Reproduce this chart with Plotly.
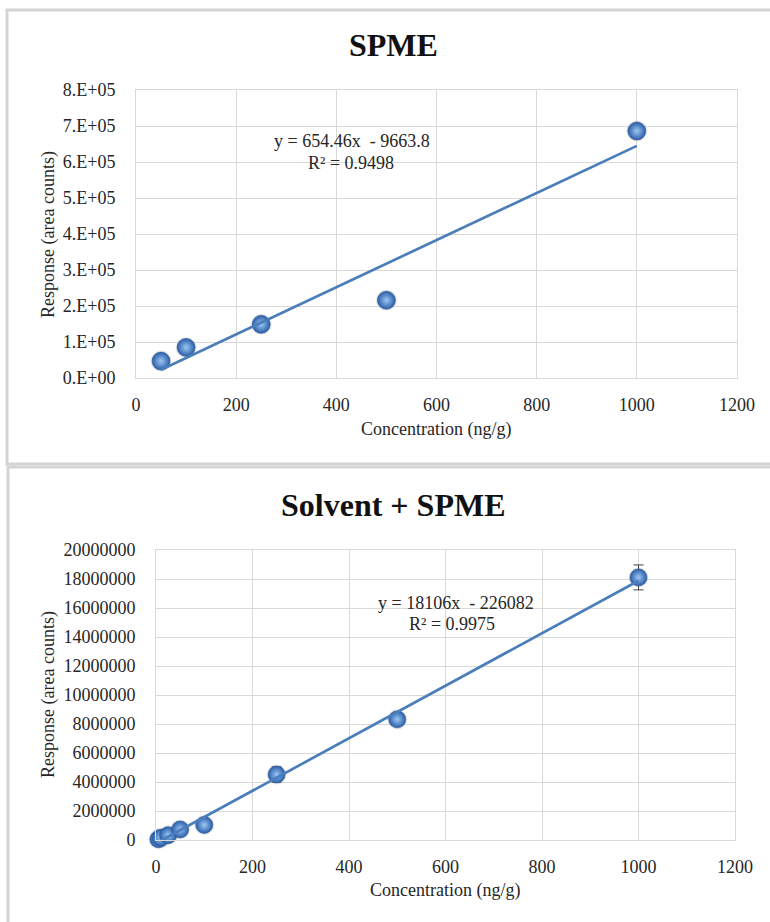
import plotly.graph_objects as go

W, H = 770, 922

# ---- SPME calibration ----
spme_conc = [50, 100, 250, 500, 1000]
spme_resp = [47000, 85000, 149000, 216000, 686000]
spme_slope, spme_intercept = 654.46, -9663.8
spme_eq = "y = 654.46x  - 9663.8"
spme_r2 = "R² = 0.9498"
spme_yticks = [0, 100000, 200000, 300000, 400000, 500000, 600000, 700000, 800000]
spme_yticktext = ["0.E+00", "1.E+05", "2.E+05", "3.E+05", "4.E+05",
                  "5.E+05", "6.E+05", "7.E+05", "8.E+05"]

# ---- Solvent + SPME calibration ----
solv_conc = [5, 10, 25, 50, 100, 250, 500, 1000]
solv_resp = [50000, 150000, 330000, 730000, 1040000, 4520000, 8320000, 18110000]
solv_err = [20000, 30000, 60000, 80000, 120000, 520000, 300000, 860000]
solv_slope, solv_intercept = 18106, -226082
solv_eq = "y = 18106x  - 226082"
solv_r2 = "R² = 0.9975"
solv_yticks = list(range(0, 20000001, 2000000))

x_ticks = [0, 200, 400, 600, 800, 1000, 1200]

FONT = "Liberation Serif"
TXT = "#262626"
GRID = "#d9d9d9"
LINE = "#4a7ebb"


def px(x):
    return x / W


def py(y):
    return 1 - y / H


def sphere(size):
    return dict(size=size, color="#2a5ea8",
                gradient=dict(type="radial", color="#9cc6f5"),
                line=dict(color="#2a5896", width=0.6))


def shadow(size):
    return dict(size=size, color="rgba(60,60,60,0.13)", line=dict(width=0))


fig = go.Figure()

# top chart
fig.add_trace(go.Scatter(x=spme_conc, y=spme_resp, mode="markers",
                         marker=shadow(21), xaxis="x", yaxis="y",
                         showlegend=False, hoverinfo="skip", cliponaxis=False))
fig.add_trace(go.Scatter(x=spme_conc, y=spme_resp, mode="markers",
                         marker=sphere(18), xaxis="x", yaxis="y",
                         showlegend=False, cliponaxis=False))
sx = [spme_conc[0], spme_conc[-1]]
fig.add_trace(go.Scatter(x=sx, y=[spme_slope * v + spme_intercept for v in sx],
                         mode="lines", line=dict(color=LINE, width=2.7),
                         xaxis="x", yaxis="y", showlegend=False))

# bottom chart
fig.add_trace(go.Scatter(x=solv_conc, y=solv_resp, mode="markers",
                         marker=shadow(20), xaxis="x2", yaxis="y2",
                         showlegend=False, hoverinfo="skip", cliponaxis=False))
fig.add_trace(go.Scatter(x=solv_conc, y=solv_resp, mode="markers",
                         marker=sphere(17),
                         error_y=dict(type="data", array=solv_err, color="#404040",
                                      thickness=1, width=5),
                         xaxis="x2", yaxis="y2", showlegend=False, cliponaxis=False))
bx = [solv_conc[0], solv_conc[-1]]
fig.add_trace(go.Scatter(x=bx, y=[solv_slope * v + solv_intercept for v in bx],
                         mode="lines", line=dict(color=LINE, width=2.7),
                         xaxis="x2", yaxis="y2", showlegend=False))

axis_common = dict(showgrid=True, gridcolor=GRID, gridwidth=1, zeroline=False,
                   showline=True, linecolor=GRID, linewidth=1, mirror=True,
                   tickfont=dict(family=FONT, size=18, color=TXT), ticks="")

fig.update_layout(
    autosize=True,
    margin=dict(l=0, r=0, t=0, b=0, autoexpand=False),
    paper_bgcolor="white", plot_bgcolor="white",
    xaxis=dict(domain=[px(136), px(737)], range=[0, 1200], tickvals=x_ticks,
               anchor="y", ticklabelstandoff=10, **axis_common),
    yaxis=dict(domain=[py(378), py(90)], range=[0, 800000], tickvals=spme_yticks,
               ticktext=spme_yticktext, anchor="x", ticklabelstandoff=16,
               **axis_common),
    xaxis2=dict(domain=[px(156), px(735)], range=[0, 1200], tickvals=x_ticks,
                anchor="y2", ticklabelstandoff=10, **axis_common),
    yaxis2=dict(domain=[py(840), py(550)], range=[0, 20000000], tickvals=solv_yticks,
                tickformat="d", anchor="x2", ticklabelstandoff=16, **axis_common),
)

annotations = [
    dict(text="<b>SPME</b>", x=px(393), y=py(45), font=dict(size=32)),
    dict(text="<b>Solvent + SPME</b>", x=px(393), y=py(505), font=dict(size=32)),
    dict(text="Concentration (ng/g)", x=px(436), y=py(430), font=dict(size=18)),
    dict(text="Concentration (ng/g)", x=px(445), y=py(890), font=dict(size=18)),
    dict(text="Response (area counts)", x=px(49), y=py(234), textangle=-90,
         font=dict(size=18)),
    dict(text="Response (area counts)", x=px(48), y=py(695), textangle=-90,
         font=dict(size=18)),
    dict(text=spme_eq, x=px(352), y=py(141), font=dict(size=18)),
    dict(text=spme_r2, x=px(351), y=py(163), font=dict(size=18)),
    dict(text=solv_eq, x=px(456), y=py(603), font=dict(size=18)),
    dict(text=solv_r2, x=px(452), y=py(624), font=dict(size=18)),
]
for a in annotations:
    a.update(xref="paper", yref="paper", showarrow=False,
             xanchor="center", yanchor="middle")
    a["font"].update(family=FONT, color="#111111" if a["font"]["size"] > 20 else TXT)
fig.update_layout(annotations=annotations)

# chart-area frames
frame = dict(type="rect", xref="paper", yref="paper",
             line=dict(color="#d4d4d4", width=3), fillcolor="rgba(0,0,0,0)")
fig.update_layout(shapes=[
    dict(frame, x0=px(7), x1=px(790), y0=py(10), y1=py(464)),
    dict(frame, x0=px(8), x1=px(790), y0=py(467), y1=py(940)),
])

# the figure fills the whole window, flush with its edges
fig.write_html("out.html", default_width="100vw", default_height="100vh",
               config={"responsive": True},
               post_script="document.body.style.margin='0';"
                           "document.body.style.overflow='hidden';")
